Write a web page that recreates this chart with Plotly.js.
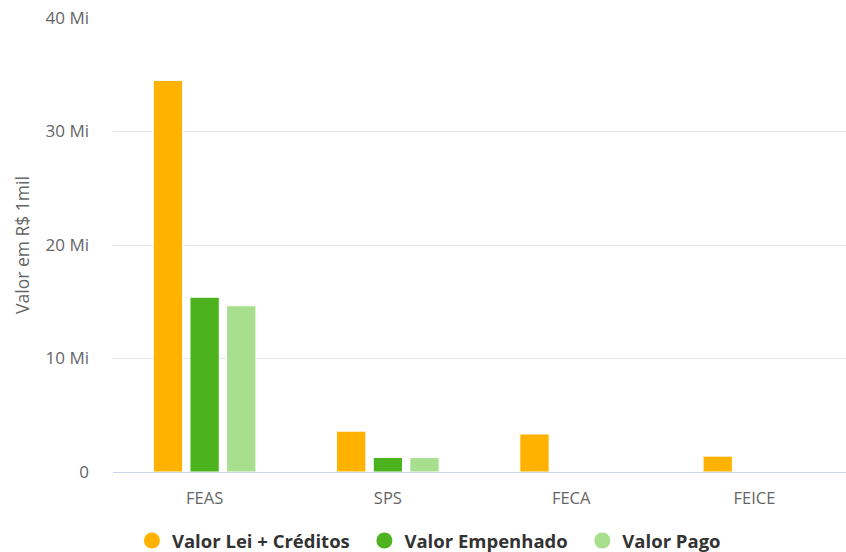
<!DOCTYPE html>
<html>
<head>
<meta charset="utf-8">
<script src="https://cdn.plot.ly/plotly-3.0.1.min.js"></script>
<style>html,body{margin:0;padding:0;background:#fff}#chart{width:846px;height:552px}</style>
</head>
<body>
<div id="chart"></div>
<script>
const categories = ["FEAS", "SPS", "FECA", "FEICE"];
const valorLei = [34500000, 3600000, 3350000, 1400000];
const valorEmpenhado = [15400000, 1280000, 0, 0];
const valorPago = [14650000, 1270000, 0, 0];
const seriesNames = ["Valor Lei + Créditos", "Valor Empenhado", "Valor Pago"];
const seriesColors = ["#FFB300", "#4CB31E", "#A8DF8E"];
const yTickVals = [0, 10000000, 20000000, 30000000, 40000000];
const yTickText = ["0", "10 Mi", "20 Mi", "30 Mi", "40 Mi"];

const seriesValues = [valorLei, valorEmpenhado, valorPago];
const traces = [];
seriesValues.forEach((vals, i) => {
  traces.push({
    type: "bar", x: categories, y: vals, name: seriesNames[i],
    marker: {color: seriesColors[i], line: {color: "#ffffff", width: 1}},
    showlegend: false, hoverinfo: "x+y+name"
  });
});
seriesNames.forEach((n, i) => {
  traces.push({
    type: "scatter", mode: "markers", x: [null], y: [null],
    name: n + (i < seriesNames.length - 1 ? "\u00a0\u00a0" : ""),
    marker: {color: seriesColors[i], size: 17, symbol: "circle"},
    showlegend: true, hoverinfo: "skip"
  });
});

const layout = {
  width: 846, height: 552,
  margin: {l: 113, r: 0, t: 18, b: 80, autoexpand: false},
  paper_bgcolor: "#ffffff", plot_bgcolor: "#ffffff",
  font: {family: "Open Sans, sans-serif", color: "#666666", size: 16},
  barmode: "group", bargap: 0.4, bargroupgap: 0.2,
  showlegend: true,
  legend: {
    orientation: "h", x: 0.507, xref: "container", xanchor: "center",
    y: 0.02, yref: "container", yanchor: "middle",
    font: {family: "Open Sans, sans-serif", size: 18.5, color: "#333333", weight: "bold"},
    itemsizing: "trace", traceorder: "normal"
  },
  xaxis: {
    type: "category", showgrid: false, zeroline: false,
    showline: true, linecolor: "#ccd6eb", linewidth: 1,
    ticks: "", ticklabelstandoff: 11,
    tickfont: {size: 16.5, color: "#666666"}, fixedrange: true
  },
  yaxis: {
    range: [0, 40000000], tickvals: yTickVals, ticktext: yTickText,
    showgrid: true, gridcolor: "#e6e6e6", gridwidth: 1,
    zeroline: false, showline: false, ticks: "",
    ticklabelstandoff: 23,
    tickfont: {size: 17, color: "#666666"},
    title: {text: "Valor em R$ 1mil", font: {size: 17.5, color: "#666666"}, standoff: 11},
    fixedrange: true
  }
};

Plotly.newPlot("chart", traces, layout, {displayModeBar: false});
</script>
</body>
</html>
